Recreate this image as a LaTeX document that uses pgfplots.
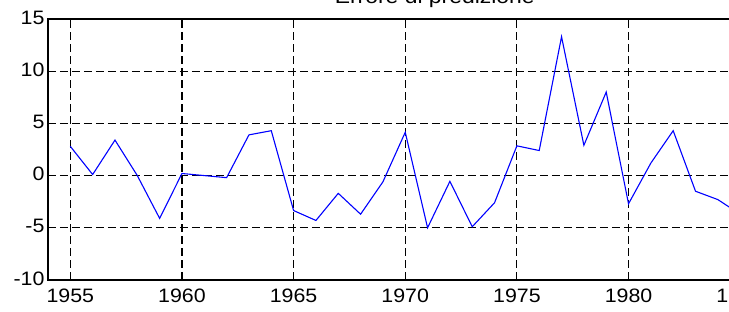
\documentclass[border=0pt]{standalone}
\usepackage{fontspec}
\setmainfont{Liberation Sans}
\newfontfamily\widefont[FakeStretch=1.1]{Liberation Sans}
\newfontfamily\titlefont[FakeStretch=1.15]{Liberation Sans}
\usepackage{pgfplots}
\pgfplotsset{compat=1.18}
\begin{document}
\begin{tikzpicture}
\begin{axis}[
  x=22.33bp, y=10.44bp,
  xmin=1954, xmax=1989, ymin=-10, ymax=15,
  axis line style={black, line width=1.1bp},
  xtick={1955,1960,...,1985}, ytick={-10,-5,...,15},
  tick align=inside, major tick length=5bp,
  tick style={black, line width=1.1bp},
  grid=major,
  major grid style={black, dash pattern=on 8bp off 4bp, line width=1.1bp},
  /pgf/number format/.cd, 1000 sep={}, assume math mode=true,
  /pgfplots/.cd,
  tick label style={font=\widefont\fontsize{19.5}{23}\selectfont},
  xticklabel style={yshift=-5bp},
  yticklabel style={xshift=0bp, yshift=1.5bp},
  clip=false,
]
\addplot[color={rgb,255:red,0;green,0;blue,255}, line width=1.1bp] coordinates {
(1955,2.8) (1956,0.1) (1957,3.4) (1958,0.0) (1959,-4.1)
(1960,0.2) (1961,0.0) (1962,-0.2) (1963,3.9) (1964,4.3)
(1965,-3.35) (1966,-4.3) (1967,-1.7) (1968,-3.7) (1969,-0.6)
(1970,4.15) (1971,-5.0) (1972,-0.55) (1973,-4.9) (1974,-2.6)
(1975,2.85) (1976,2.4) (1977,13.3) (1978,2.9) (1979,8.0)
(1980,-2.7) (1981,1.2) (1982,4.3) (1983,-1.5) (1984,-2.3)
(1985,-3.7)
};
\node[anchor=base, font=\titlefont\fontsize{20}{24}\selectfont] at ([xshift=-4bp,yshift=15.5bp]rel axis cs:0.5,1) {Errore di predizione};
\coordinate (tl) at (rel axis cs:0,1);
\coordinate (br) at (axis cs:1984.5,-10);
\end{axis}
\pgfresetboundingbox
\path[use as bounding box] ([xshift=-48bp,yshift=19bp]tl) rectangle ([yshift=-32bp]br);
\end{tikzpicture}
\end{document}
